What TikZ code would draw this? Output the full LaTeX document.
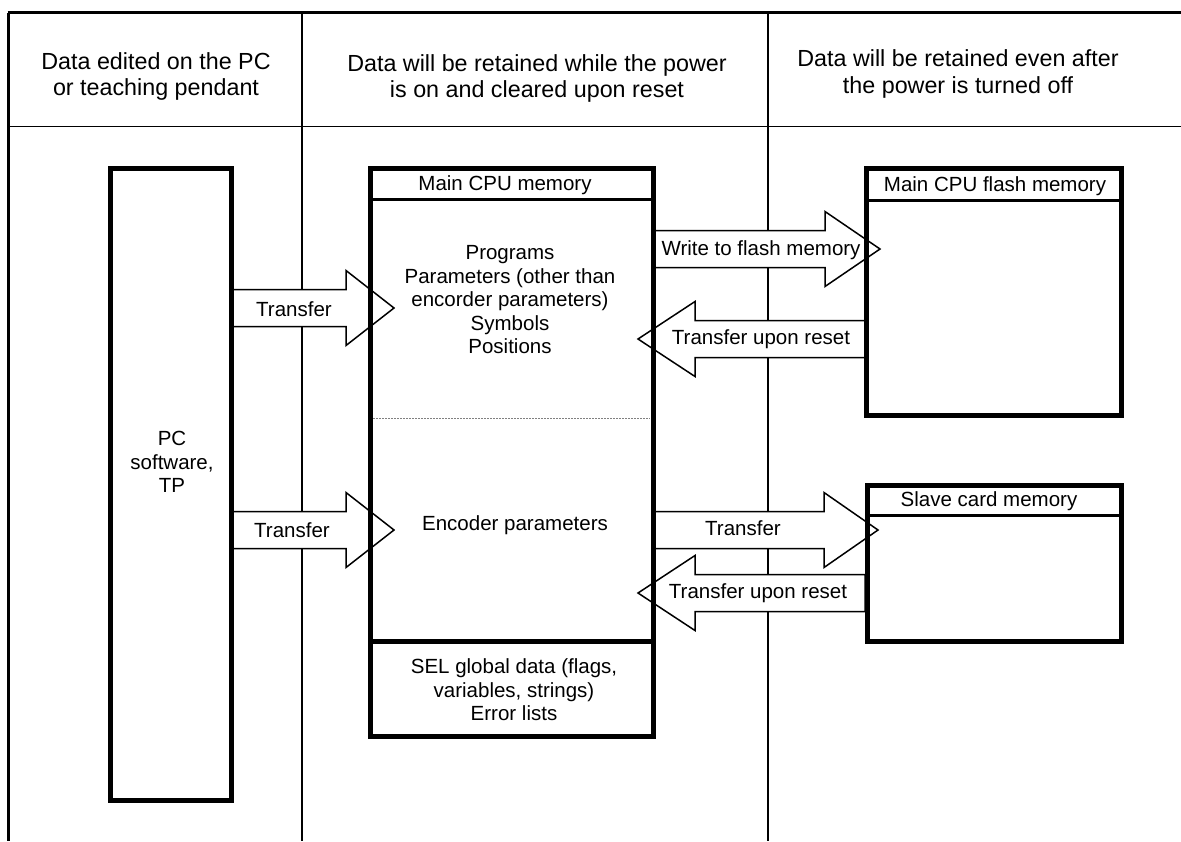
\documentclass[tikz,border=0pt]{standalone}
\usepackage{fontspec}
\setmainfont{Liberation Sans}
\newdimen\px \px=0.5pt
\tikzset{
  hdr/.style={font=\fontsize{11.65}{13.25}\selectfont, align=center, inner sep=0pt},
  lbl/.style={font=\fontsize{10.25}{11.75}\selectfont, align=center, inner sep=0pt},
  memory/.style={draw, line width=5\px, inner sep=0pt, outer sep=0pt, anchor=north west},
  titlerule/.style={line width=3\px},
  barrow/.style={draw, fill=white, line width=1.5\px, line join=miter},
  thinrule/.style={line width=1.2\px},
}
\newcommand\blockarrow[4]{%
  \draw[barrow] (#1,#4-18.5) -- (#2,#4-18.5) -- (#2,#4-37.5) -- (#3,#4)
    -- (#2,#4+37.5) -- (#2,#4+18.5) -- (#1,#4+18.5) -- cycle;}
\begin{document}
\begin{tikzpicture}[x=0.5pt,y=-0.5pt]
\useasboundingbox (0,0) rectangle (1181,841);
% frame and columns
\draw[line width=3\px] (7.5,12.5) -- (1181,12.5);
\draw[line width=2.5\px] (8.7,12.5) -- (8.7,841);
\draw[thinrule] (8.7,126.7) -- (1181,126.7);
\draw[thinrule] (302,12.5) -- (302,841);
\draw[thinrule] (768,12.5) -- (768,841);
% headers
\node[hdr] (h1) at (156,76.5) {Data edited on the PC\\or teaching pendant};
\node[hdr] (h2) at (537,78.5) {Data will be retained while the power\\is on and cleared upon reset};
\node[hdr] (h3) at (958,74) {Data will be retained even after\\the power is turned off};
% block arrows
\blockarrow{232}{346}{394}{308}
\blockarrow{232}{346}{394}{530}
\blockarrow{653}{825}{880}{249}
\blockarrow{865}{695}{638}{339}
\blockarrow{653}{824}{878}{530}
\blockarrow{865}{695}{638}{593}
% boxes
\node[memory, minimum width=121\px, minimum height=632\px] (pc) at (110.5,168) {};
\node[memory, minimum width=283\px, minimum height=568\px] (main) at (370,168) {};
\draw[titlerule] (370,199) -- (653,199);
\draw[line width=5\px] (370,641) -- (655,641);
\draw[gray, line width=1\px, dash pattern=on 1.5\px off 1.5\px] (373,418) -- (650,418);
\node[memory, minimum width=254.5\px, minimum height=247\px] (flash) at (866.5,168) {};
\draw[titlerule] (866.5,200) -- (1121,200);
\node[memory, minimum width=254.5\px, minimum height=156\px] (slave) at (867,485) {};
\draw[titlerule] (867,515) -- (1121.5,515);
% texts
\node[lbl] (pctext) at (172,462) {PC\\software,\\TP};
\node[lbl] (maint) at (505,185) {Main CPU memory};
\node[lbl] (progs) at (510,300) {Programs\\Parameters (other than\\encorder parameters)\\Symbols\\Positions};
\node[lbl] (enc) at (515,525) {Encoder parameters};
\node[lbl] (sel) at (514,690) {SEL global data (flags,\\variables, strings)\\Error lists};
\node[lbl] (flasht) at (995,186) {Main CPU flash memory};
\node[lbl] (slavet) at (989,501) {Slave card memory};
\node[lbl] (t1) at (294,309) {Transfer};
\node[lbl] (t2) at (292,530) {Transfer};
\node[lbl] (t3) at (761,250) {Write to flash memory};
\node[lbl] (t4) at (761,339) {Transfer upon reset};
\node[lbl] (t5) at (743,528) {Transfer};
\node[lbl] (t6) at (758,593) {Transfer upon reset};
\end{tikzpicture}
\end{document}
